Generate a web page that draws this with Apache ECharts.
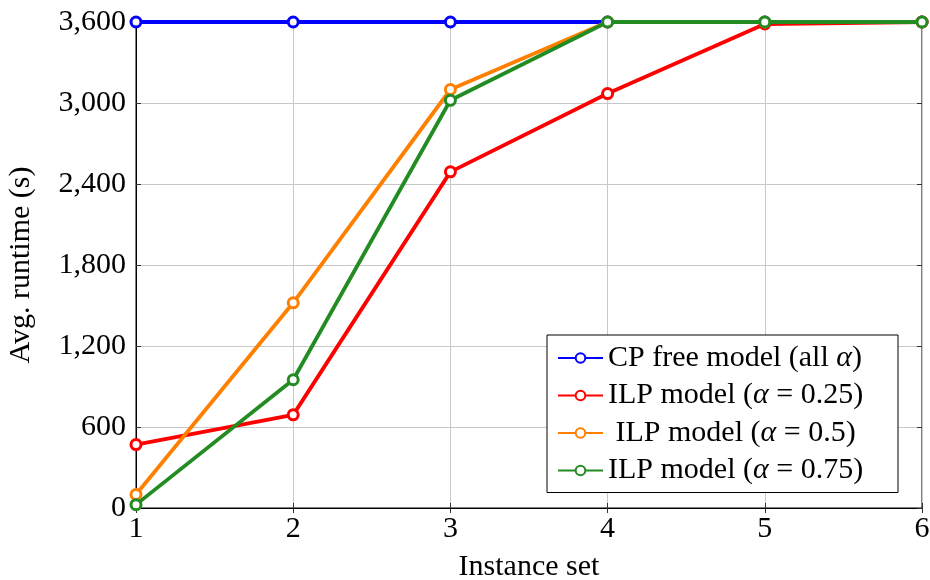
<!DOCTYPE html>
<html>
<head>
<meta charset="utf-8">
<script src="https://cdn.jsdelivr.net/npm/echarts@6/dist/echarts.min.js"></script>
<style>
  html, body { margin: 0; padding: 0; background: #fff; }
  #chart { width: 930px; height: 580px; }
</style>
</head>
<body>
<div id="chart"></div>
<script>
// Instance sets on the x axis
const instanceSets = [1, 2, 3, 4, 5, 6];
// Average runtimes in seconds (time limit 3600 s)
const cpFree = [3600, 3600, 3600, 3600, 3600, 3600];
const ilp025 = [470, 690, 2490, 3070, 3585, 3600];
const ilp050 = [100, 1520, 3100, 3600, 3600, 3600];
const ilp075 = [25, 950, 3020, 3600, 3600, 3600];
const yTicks = [0, 600, 1200, 1800, 2400, 3000, 3600];

const seriesNames = ['CP free model (all α)', 'ILP model (α = 0.25)', 'ILP model (α = 0.5)', 'ILP model (α = 0.75)'];
const seriesData = [cpFree, ilp025, ilp050, ilp075];
const colors = ['#0000ff', '#ff0000', '#ff8000', '#228b22'];

const FONT = '"Liberation Serif", "DejaVu Serif", serif';
const FS = 30;

const chart = echarts.init(document.getElementById('chart'), null, { renderer: 'canvas' });

const series = seriesNames.map((name, i) => ({
  name: name,
  type: 'line',
  data: instanceSets.map((x, j) => [x, seriesData[i][j]]),
  symbol: 'circle',
  symbolSize: 10,
  showSymbol: true,
  lineStyle: { width: 3.8, color: colors[i] },
  itemStyle: { color: '#ffffff', borderColor: colors[i], borderWidth: 3 },
  emphasis: { disabled: true },
  z: 2 + i,
  animation: false
}));

const fmt = v => v.toLocaleString('en-US');

chart.setOption({
  animation: false,
  grid: {
    left: 136, right: 8, top: 22, bottom: 72,
    containLabel: false, outerBoundsMode: 'none',
    show: true, borderColor: '#000', borderWidth: 1, backgroundColor: 'transparent'
  },
  xAxis: [{
    type: 'value', min: 1, max: 6, interval: 1,
    name: 'Instance set', nameLocation: 'middle', nameGap: 44,
    nameTextStyle: { fontFamily: FONT, fontSize: FS, color: '#000' },
    axisLine: { show: true, lineStyle: { color: '#000', width: 1 } },
    axisTick: { show: true, inside: true, length: 5, lineStyle: { color: '#333' } },
    axisLabel: { fontFamily: FONT, fontSize: FS, color: '#000', margin: 6 },
    splitLine: { show: true, lineStyle: { color: '#c8c8c8', width: 1 } }
  }, {
    type: 'value', min: 1, max: 6, interval: 1, position: 'top',
    axisLine: { show: false },
    axisTick: { show: true, inside: true, length: 5, lineStyle: { color: '#333' } },
    axisLabel: { show: false }, splitLine: { show: false }
  }],
  yAxis: [{
    type: 'value', min: 0, max: 3600, interval: 600,
    name: 'Avg. runtime (s)', nameLocation: 'middle', nameGap: 100, nameRotate: 90,
    nameTextStyle: { fontFamily: FONT, fontSize: FS, color: '#000' },
    axisLine: { show: true, lineStyle: { color: '#000', width: 1 } },
    axisTick: { show: true, inside: true, length: 5, lineStyle: { color: '#333' } },
    axisLabel: { fontFamily: FONT, fontSize: FS, color: '#000', margin: 10,
      formatter: v => yTicks.includes(v) ? fmt(v) : '' },
    splitLine: { show: true, lineStyle: { color: '#c8c8c8', width: 1 } }
  }, {
    type: 'value', min: 0, max: 3600, interval: 600, position: 'right',
    axisLine: { show: false },
    axisTick: { show: true, inside: true, length: 5, lineStyle: { color: '#333' } },
    axisLabel: { show: false }, splitLine: { show: false }
  }],
  legend: {
    orient: 'vertical',
    left: 547, top: 335,
    padding: [8, 10, 7, 10],
    itemWidth: 45, itemHeight: 12, itemGap: 7.5,
    backgroundColor: '#fff',
    borderColor: '#000', borderWidth: 1, borderRadius: 0,
    data: seriesNames,
    formatter: name => (name === 'ILP model (α = 0.5)' ? ' ' : '') + name.replace('α', '{i|α}'),
    textStyle: {
      fontFamily: FONT, fontSize: FS, lineHeight: 30, color: '#000', width: 280,
      rich: { i: { fontFamily: FONT, fontStyle: 'italic', fontSize: FS, lineHeight: 30, color: '#000' } }
    },
    selectedMode: false,
    z: 10
  },
  series: series
});
</script>
</body>
</html>
